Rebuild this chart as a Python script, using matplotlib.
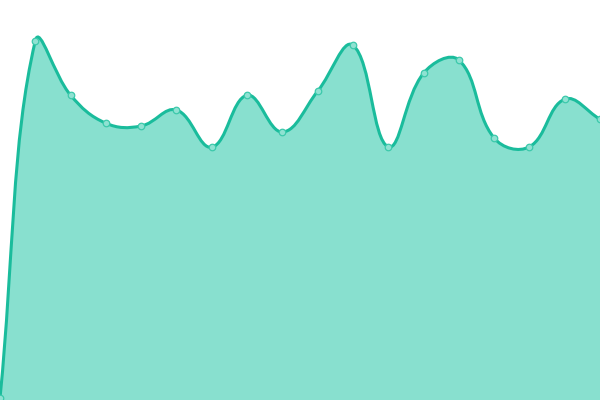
import numpy as np
import matplotlib
matplotlib.use('Agg')
import matplotlib.pyplot as plt
from matplotlib.path import Path
from matplotlib.patches import PathPatch

# values (y axis 0-100, 18 evenly spaced points)
x_vals = list(range(18))
y_vals = [0.5, 89.8, 76.2, 69.2, 68.5, 72.5, 63.2, 76.2, 67.0, 77.2,
          88.7, 63.3, 81.7, 85.0, 65.5, 63.3, 75.2, 70.2]

line_color = '#1abc9c'
fill_color = '#88e0cf'
point_face = '#8fe2d2'

fig = plt.figure(figsize=(6, 4), dpi=100)
ax = fig.add_axes([0, 0, 1, 1])
ax.set_xlim(0, 17)
ax.set_ylim(0, 100)
ax.axis('off')


def spline_controls(pts, tension=0.4):
    # bezier control points like a tension spline (done in pixel space)
    n = len(pts)
    ctrl = []
    for i in range(n):
        p0 = pts[max(i - 1, 0)]
        p1 = pts[i]
        p2 = pts[min(i + 1, n - 1)]
        d01 = np.hypot(*(p1 - p0))
        d12 = np.hypot(*(p2 - p1))
        tot = d01 + d12
        s01 = d01 / tot if tot else 0
        s12 = d12 / tot if tot else 0
        fa = tension * s01
        fb = tension * s12
        prev_c = p1 - fa * (p2 - p0)
        next_c = p1 + fb * (p2 - p0)
        ctrl.append((prev_c, next_c))
    return ctrl


pix = ax.transData.transform(np.column_stack([x_vals, y_vals]))
ctrl = spline_controls(pix)
bbox = ax.bbox
verts = [pix[0]]
codes = [Path.MOVETO]
for i in range(len(pix) - 1):
    c1 = ctrl[i][1].copy()
    c2 = ctrl[i + 1][0].copy()
    for c in (c1, c2):
        c[0] = min(max(c[0], bbox.x0), bbox.x1)
        c[1] = min(max(c[1], bbox.y0), bbox.y1)
    verts += [c1, c2, pix[i + 1]]
    codes += [Path.CURVE4] * 3
inv = ax.transData.inverted()
curve = inv.transform(np.array(verts))

# area under the curve
fill_verts = list(curve) + [(x_vals[-1], 0), (x_vals[0], 0), tuple(curve[0])]
fill_codes = codes + [Path.LINETO, Path.LINETO, Path.CLOSEPOLY]
ax.add_patch(PathPatch(Path(fill_verts, fill_codes), facecolor=fill_color,
                       edgecolor='none', zorder=1))
ax.add_patch(PathPatch(Path(curve, codes), facecolor='none',
                       edgecolor=line_color, lw=2.2, zorder=2,
                       capstyle='round', joinstyle='round'))

ax.scatter(x_vals, y_vals, s=22, facecolor=point_face, edgecolor='#3cc9ab',
           linewidth=0.9, zorder=3, clip_on=False)

fig.savefig('out.png', dpi=100)
